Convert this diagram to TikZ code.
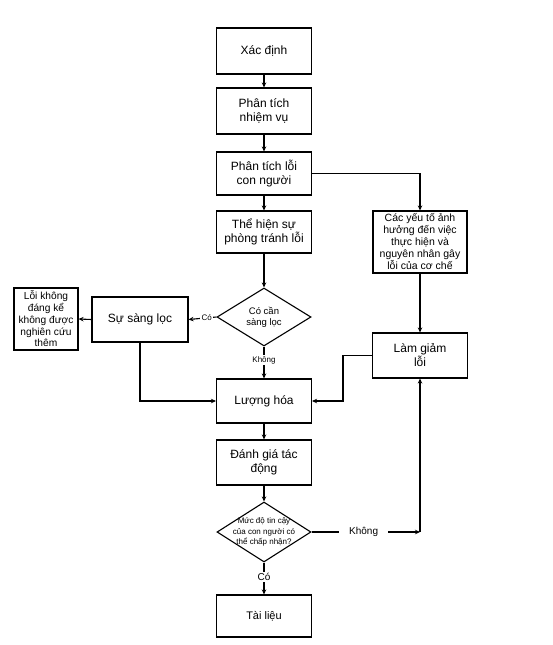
\documentclass[tikz,border=0pt]{standalone}
\usepackage{fontspec}
\setmainfont{Liberation Sans}
\usetikzlibrary{arrows.meta,shapes.geometric,calc}
\begin{document}
\begin{tikzpicture}[x=1pt,y=-1pt,
  box/.style={draw, line width=1.1pt, minimum width=95pt, minimum height=45pt, align=center, inner sep=2pt, font=\fontsize{12}{14}\selectfont},
  dia/.style={draw, diamond, line width=1.1pt, inner sep=0pt},
  dtext/.style={align=center, inner sep=0pt, font=\fontsize{9.5}{11}\selectfont},
  lbl/.style={fill=white, inner sep=1.5pt, font=\fontsize{8}{9}\selectfont},
  arr/.style={-{Stealth[length=5pt,width=4.5pt]}, line width=1.1pt}]
\useasboundingbox (0,0) rectangle (553,645);
% main column
\node[box, minimum height=46pt] (xd) at (264,51) {Xác định};
\node[box, minimum height=46pt] (pt) at (264,111) {Phân tích\\nhiệm vụ};
\node[box, minimum height=43pt] (ploi) at (264,173.5) {Phân tích lỗi\\con người};
\node[box, minimum height=42pt] (th) at (264,232) {Thể hiện sự\\phòng tránh lỗi};
\node[dia, minimum width=94pt, minimum height=58pt] (d1) at (264,317) {};
\node[dtext] at (d1) {Có cần\\sàng lọc};
\node[box, minimum width=96pt] (ssl) at (140,319.5) {Sự sàng lọc};
\node[box, minimum width=64pt, minimum height=62pt, inner sep=1pt, font=\fontsize{10.2}{11.8}\selectfont] (lkd) at (46,319) {Lỗi không\\đáng kể\\không được\\nghiên cứu\\thêm};
\node[box, minimum height=44pt] (lh) at (264,401) {Lượng hóa};
\node[box] (dg) at (264,462.5) {Đánh giá tác\\động};
\node[dia, minimum width=94pt, minimum height=60pt] (d2) at (264,532) {};
\node[dtext, font=\fontsize{8}{10.5}\selectfont] at (d2) {Mức độ tin cậy\\của con người có\\thể chấp nhận?};
\node[box, minimum height=42pt, font=\fontsize{11}{13}\selectfont] (tl) at (264,616) {Tài liệu};
% right column
\node[box, minimum width=94pt, minimum height=62pt, inner sep=1pt, font=\fontsize{10.5}{12}\selectfont] (cyt) at (420,242) {Các yếu tố ảnh\\hưởng đến việc\\thực hiện và\\nguyên nhân gây\\lỗi của cơ chế};
\node[box] (lg) at (420,355.5) {Làm giảm\\lỗi};
\coordinate (j1) at (343,0);
\coordinate (k) at (lg.south |- d2.east);
% connectors
\draw[arr] (xd) -- (pt);
\draw[arr] (pt) -- (ploi);
\draw[arr] (ploi) -- (th);
\draw[arr] (th) -- (d1);
\draw[arr] (d1.west) -- node[lbl, pos=0.35] {Có} (ssl.east);
\draw[arr] (ssl.west) -- (lkd.east);
\draw[arr] (d1.south) -- node[lbl, pos=0.42] {Không} (lh.north);
\draw[arr] (ssl.south) |- (lh.west);
\draw[arr] (ploi.east) -| (cyt.north);
\draw[arr] (cyt) -- (lg);
\draw[arr] (lg.west) -- (lg.west -| j1) |- (lh.east);
\draw[arr] (lh) -- (dg);
\draw[arr] (dg) -- (d2);
\draw[arr] (d2.south) -- node[lbl, pos=0.45, font=\fontsize{10}{11}\selectfont] {Có} (tl.north);
\draw[arr] (d2.east) -- node[lbl, pos=0.48, inner xsep=10pt, font=\fontsize{10}{11}\selectfont] {Không} (k);
\draw[arr] (k) -- (lg.south);
\end{tikzpicture}
\end{document}
